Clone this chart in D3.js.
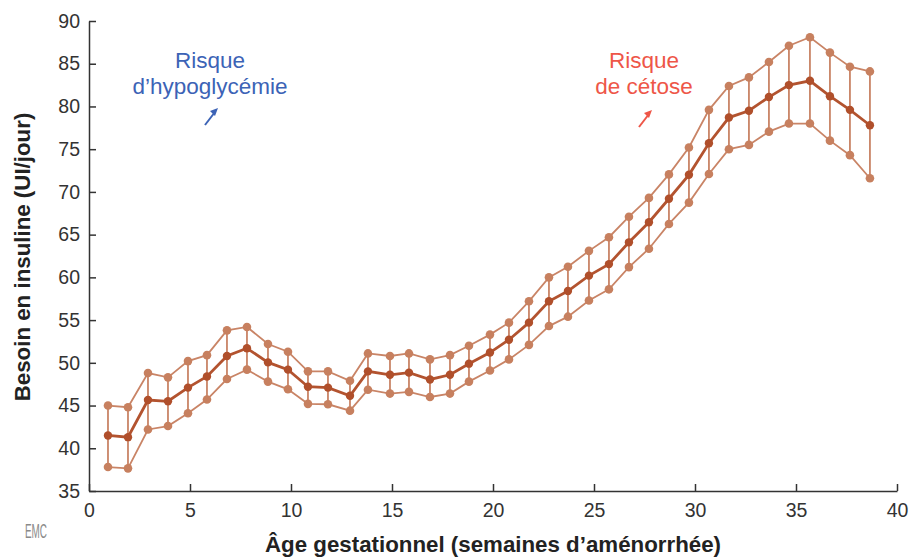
<!DOCTYPE html>
<html>
  <head>
    <meta charset="utf-8">
    <title>Besoin en insuline</title>
    <script type="text/javascript" src="https://cdn.jsdelivr.net/npm/d3@7"></script>
    <style>
      body { margin: 0; background: white; }
      text { font-family: "Liberation Sans", Arial, sans-serif; }
    </style>
  </head>
  <body>
    <svg width="909" height="557" id="chart"></svg>
    <script type="text/javascript">
      // semaines (les points sont un peu avant les entiers)
      var semaines = [0.94, 1.93, 2.92, 3.91, 4.9, 5.84, 6.83, 7.82, 8.86, 9.85,
                      10.84, 11.83, 12.92, 13.81, 14.9, 15.84, 16.88, 17.87, 18.81, 19.85,
                      20.79, 21.78, 22.77, 23.71, 24.75, 25.74, 26.73, 27.72, 28.71, 29.7,
                      30.69, 31.68, 32.67, 33.66, 34.65, 35.69, 36.68, 37.67, 38.66];
      var haut = [45.0, 44.8, 48.8, 48.3, 50.2, 50.9, 53.8, 54.2, 52.2, 51.3,
                  49.0, 49.0, 47.9, 51.1, 50.8, 51.1, 50.4, 50.9, 52.0, 53.3,
                  54.7, 57.2, 60.0, 61.25, 63.1, 64.7, 67.1, 69.3, 72.05, 75.2,
                  79.6, 82.4, 83.4, 85.2, 87.1, 88.1, 86.3, 84.65, 84.1];
      var moyen = [41.5, 41.3, 45.65, 45.5, 47.1, 48.4, 50.8, 51.7, 50.05, 49.2,
                   47.2, 47.1, 46.15, 49.0, 48.6, 48.85, 48.05, 48.6, 49.9, 51.2,
                   52.7, 54.7, 57.2, 58.4, 60.2, 61.55, 64.1, 66.45, 69.2, 72.0,
                   75.7, 78.7, 79.5, 81.1, 82.5, 83.0, 81.2, 79.6, 77.8];
      var bas = [37.8, 37.65, 42.2, 42.6, 44.1, 45.7, 48.1, 49.2, 47.8, 46.9,
                 45.2, 45.15, 44.4, 46.85, 46.4, 46.6, 46.0, 46.4, 47.8, 49.1,
                 50.4, 52.1, 54.3, 55.4, 57.3, 58.6, 61.2, 63.35, 66.25, 68.75,
                 72.1, 75.0, 75.5, 77.05, 78.0, 78.0, 76.0, 74.3, 71.6];
      var xTicks = [0, 5, 10, 15, 20, 25, 30, 35, 40];
      var yTicks = [35, 40, 45, 50, 55, 60, 65, 70, 75, 80, 85, 90];

      var svg = d3.select("#chart");
      var x = d3.scaleLinear().domain([0, 40]).range([89, 897]);
      var y = d3.scaleLinear().domain([35, 90]).range([491, 21]);

      var clair = "#c98466", fonce = "#b3532f";

      // barres verticales entre bas et haut
      svg.append("g").selectAll("line")
        .data(semaines)
        .enter().append("line")
          .attr("x1", function(d) { return x(d); })
          .attr("x2", function(d) { return x(d); })
          .attr("y1", function(d, i) { return y(haut[i]); })
          .attr("y2", function(d, i) { return y(bas[i]); })
          .attr("stroke", clair)
          .attr("stroke-width", 1.8);

      var series = [
        { v: haut, c: clair, w: 1.8, r: 4.3, dc: "#c7805f" },
        { v: bas, c: clair, w: 1.8, r: 4.3, dc: "#c7805f" },
        { v: moyen, c: fonce, w: 2.8, r: 4.2, dc: "#b04f2b" }
      ];

      series.forEach(function(s) {
        var line = d3.line()
          .x(function(d, i) { return x(semaines[i]); })
          .y(function(d) { return y(d); });
        svg.append("path")
          .datum(s.v)
          .attr("fill", "none")
          .attr("stroke", s.c)
          .attr("stroke-width", s.w)
          .attr("d", line);
        svg.append("g").selectAll("circle")
          .data(s.v)
          .enter().append("circle")
            .attr("cx", function(d, i) { return x(semaines[i]); })
            .attr("cy", function(d) { return y(d); })
            .attr("r", s.r)
            .attr("fill", s.dc);
      });

      // axes
      var gx = svg.append("g")
          .attr("transform", "translate(0,491)")
          .call(d3.axisBottom(x).tickValues(xTicks).tickSizeInner(-7).tickSizeOuter(0).tickPadding(12));
      var gy = svg.append("g")
          .attr("transform", "translate(89,0)")
          .call(d3.axisLeft(y).tickValues(yTicks).tickSizeInner(-7).tickSizeOuter(0).tickPadding(9));
      [gx, gy].forEach(function(g) {
        g.select(".domain").attr("stroke", "#333").attr("stroke-width", 1.5);
        g.selectAll(".tick line").attr("stroke", "#333").attr("stroke-width", 1.5);
        g.selectAll(".tick text")
          .attr("fill", "#333")
          .style("font-size", "19.5px")
          .style("font-family", "'Liberation Sans', Arial, sans-serif");
      });

      // titres
      svg.append("text")
        .attr("x", 493).attr("y", 552)
        .attr("text-anchor", "middle")
        .attr("font-weight", "bold")
        .attr("font-size", 22.3)
        .attr("fill", "#222")
        .text("Âge gestationnel (semaines d’aménorrhée)");
      svg.append("text")
        .attr("transform", "translate(30,257) rotate(-90)")
        .attr("text-anchor", "middle")
        .attr("font-weight", "bold")
        .attr("font-size", 22.3)
        .attr("fill", "#222")
        .text("Besoin en insuline (UI/jour)");

      // annotations
      function note(cx, lignes, col, ax, ay) {
        lignes.forEach(function(t, i) {
          svg.append("text")
            .attr("x", cx).attr("y", 68 + i * 26)
            .attr("text-anchor", "middle")
            .attr("font-size", 22.5)
            .attr("fill", col)
            .text(t);
        });
        svg.append("line")
          .attr("x1", ax).attr("y1", ay + 17)
          .attr("x2", ax + 10).attr("y2", ay + 4)
          .attr("stroke", col).attr("stroke-width", 2);
        svg.append("path")
          .attr("d", "M" + (ax + 13) + "," + ay + "l-8,3l5,5z")
          .attr("fill", col);
      }
      note(210, ["Risque", "d’hypoglycémie"], "#3c63b6", 205, 108);
      note(644, ["Risque", "de cétose"], "#ee5648", 639, 110);

      // logo
      svg.append("text")
        .attr("x", 25).attr("y", 538)
        .attr("font-size", 20)
        .attr("textLength", 22)
        .attr("lengthAdjust", "spacingAndGlyphs")
        .attr("fill", "#8a8a8a")
        .attr("font-family", "'DejaVu Serif', serif")
        .text("EMC");
    </script>
  </body>
</html>
